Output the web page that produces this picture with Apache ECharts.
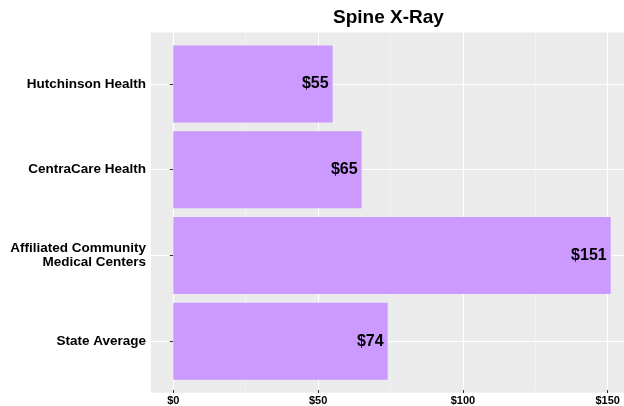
<!DOCTYPE html>
<html>
<head>
<meta charset="utf-8">
<script src="https://cdn.jsdelivr.net/npm/echarts@6/dist/echarts.min.js"></script>
<style>
  html, body { margin: 0; padding: 0; background: #fff; }
  #chart { width: 624px; height: 406px; }
</style>
</head>
<body>
<div id="chart"></div>
<script>
var categories = ['Hutchinson Health', 'CentraCare Health', 'Affiliated Community\nMedical Centers', 'State Average'];
var prices = [55, 65, 151, 74];
var xTicks = [0, 50, 100, 150];

var FONT = "'Liberation Sans', Arial, sans-serif";

const option = {
    animation: false,
    backgroundColor: '#ffffff',
    title: {
        text: 'Spine X-Ray',
        left: 333,
        top: 8,
        padding: 0,
        textStyle: { fontFamily: FONT, fontSize: 19, fontWeight: 'bold', color: '#000' }
    },
    grid: [
        // panel background
        { left: 151, right: 0, top: 32.5, bottom: 13.3, show: true, backgroundColor: '#EBEBEB', borderWidth: 0 },
        // x grid lines and labels
        { left: 173.3, right: 16.3, top: 32.5, bottom: 13.3 },
        // bars
        { left: 151, right: 0, top: 84, bottom: 64.8 }
    ],
    xAxis: [{
        gridIndex: 0, type: 'value', min: 0, max: 1, show: false
    }, {
        gridIndex: 1,
        type: 'value',
        min: xTicks[0],
        max: xTicks[xTicks.length - 1],
        interval: 50,
        axisLine: { show: false },
        axisTick: { show: true, length: 3, lineStyle: { color: '#333', width: 1 } },
        axisLabel: {
            margin: 5,
            fontFamily: FONT, fontSize: 11, fontWeight: 'bold', color: '#000',
            formatter: function (v) { return '$' + v; }
        },
        splitLine: { show: true, lineStyle: { color: '#ffffff', width: 1.1 } },
        minorTick: { show: false, splitNumber: 2 },
        minorSplitLine: { show: true, lineStyle: { color: '#F6F6F6', width: 0.6 } }
    }, {
        gridIndex: 2,
        type: 'value',
        min: -7.7,
        max: 155.6,
        show: false
    }],
    yAxis: [{
        gridIndex: 0, type: 'value', min: 0, max: 1, show: false
    }, {
        gridIndex: 1, type: 'value', min: 0, max: 1, show: false
    }, {
        gridIndex: 2,
        type: 'category',
        data: categories,
        inverse: true,
        boundaryGap: false,
        axisLine: { show: false },
        axisTick: { show: true, length: 3.5, interval: 0, lineStyle: { color: '#333', width: 1 } },
        axisLabel: {
            interval: 0,
            margin: 5,
            align: 'right',
            lineHeight: 14,
            fontFamily: FONT, fontSize: 13.5, fontWeight: 'bold', color: '#000'
        },
        splitLine: { show: true, interval: 0, lineStyle: { color: '#ffffff', width: 1.1 } }
    }],
    series: [{
        name: 'Spine X-Ray',
        type: 'bar',
        xAxisIndex: 2,
        yAxisIndex: 2,
        data: prices,
        barWidth: 77,
        clip: false,
        itemStyle: { color: '#CC99FF' },
        label: {
            show: true,
            position: 'insideRight',
            distance: 4,
            formatter: '${c}',
            fontFamily: FONT, fontSize: 16, fontWeight: 'bold', color: '#000'
        }
    }]
};

const mychart = echarts.init(document.getElementById('chart'), null, { renderer: 'canvas' });
mychart.setOption(option);
</script>
</body>
</html>
